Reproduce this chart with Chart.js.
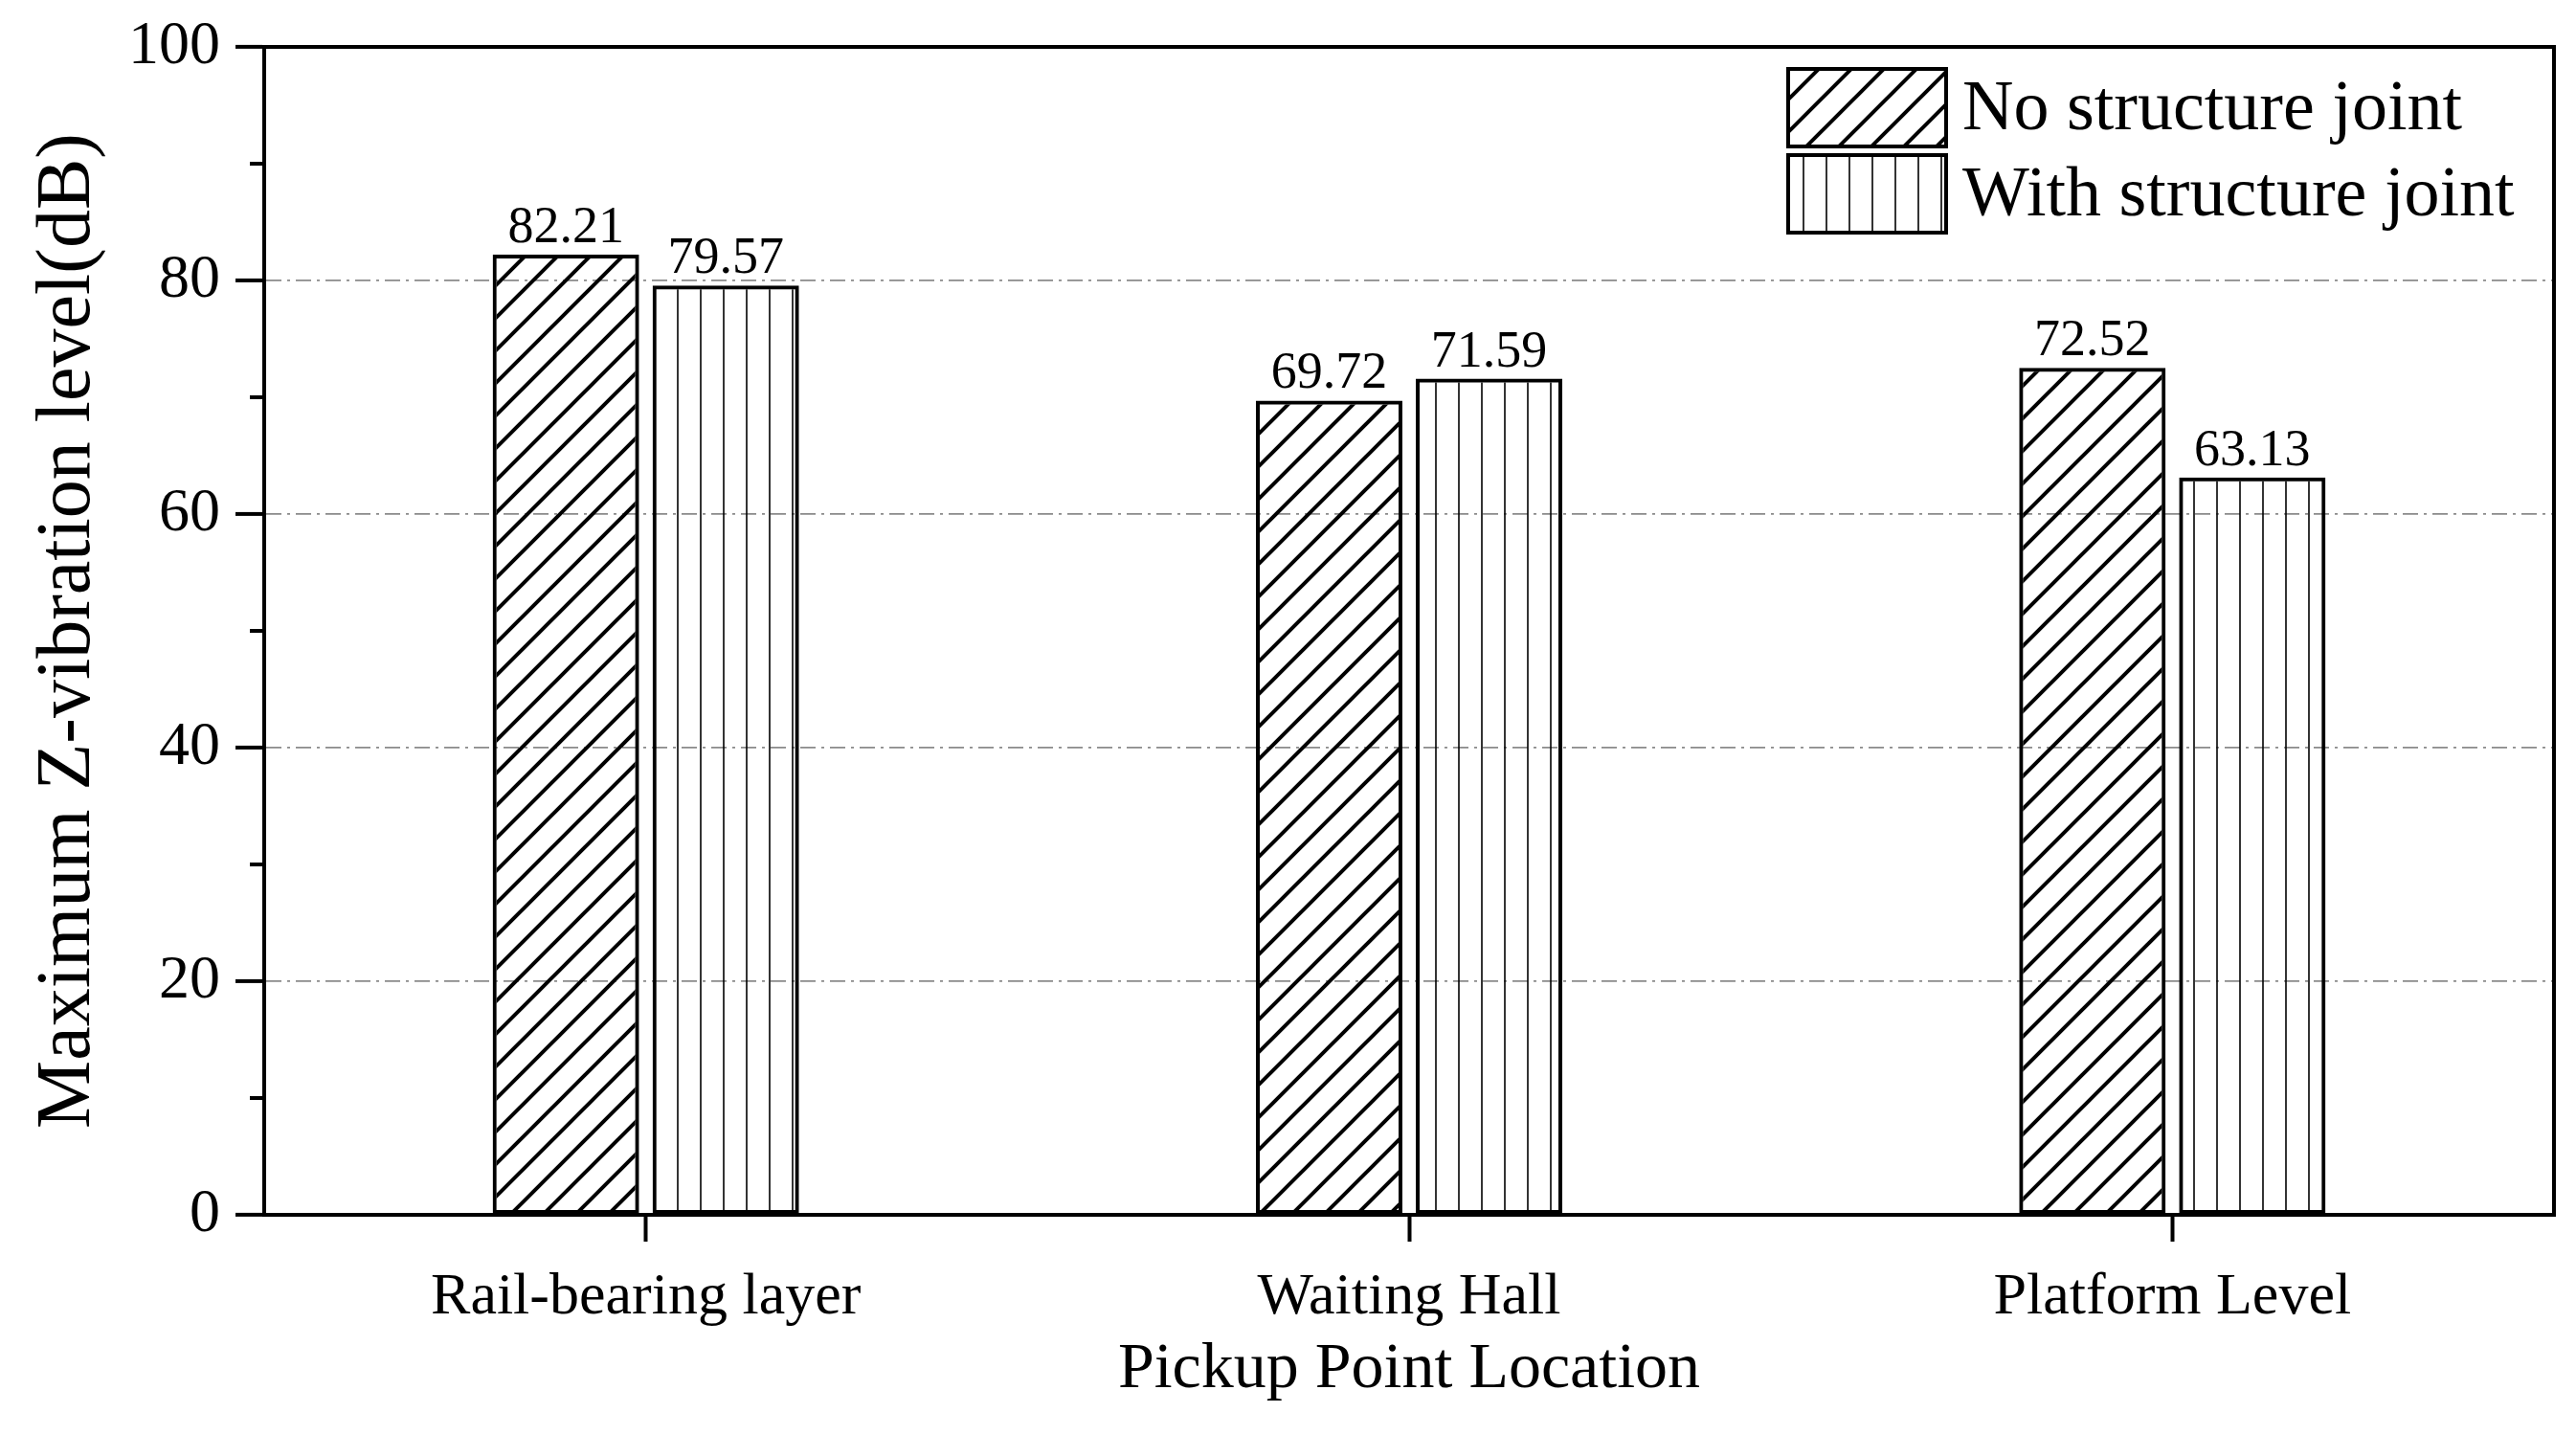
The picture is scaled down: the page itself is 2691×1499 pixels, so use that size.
<!DOCTYPE html>
<html>
<head>
<meta charset="utf-8">
<script src="https://cdn.jsdelivr.net/npm/chart.js@4.4.1/dist/chart.umd.min.js"></script>
<style>
  html, body { margin: 0; padding: 0; background: #fff; }
  #wrap { width: 2691px; height: 1499px; position: relative; }
</style>
</head>
<body>
<div id="wrap"><canvas id="chart"></canvas></div>
<script>
/* ─── DATA ────────────────────────────────────────────────── */
const categories  = ['Rail-bearing layer', 'Waiting Hall', 'Platform Level'];
const noJoint     = [82.21, 69.72, 72.52];
const withJoint   = [79.57, 71.59, 63.13];
const seriesNames = ['No structure joint', 'With structure joint'];
const gridValues  = [20, 40, 60, 80];
const minorTicks  = [10, 30, 50, 70, 90];

const FONT = "'Liberation Serif', 'Times New Roman', serif";

/* ─── PATTERNS ────────────────────────────────────────────── */
function diagPattern() {
  const s = 34, c = document.createElement('canvas');
  c.width = s; c.height = s;
  const g = c.getContext('2d');
  g.strokeStyle = '#000';
  g.lineWidth = 4;
  g.beginPath();
  g.moveTo(-4, s + 4); g.lineTo(s + 4, -4);
  g.moveTo(-4, 4);     g.lineTo(4, -4);
  g.moveTo(s - 4, s + 4); g.lineTo(s + 4, s - 4);
  g.stroke();
  return g.createPattern(c, 'repeat');
}

function vertPattern() {
  const s = 24, c = document.createElement('canvas');
  c.width = s; c.height = s;
  const g = c.getContext('2d');
  g.strokeStyle = '#000';
  g.lineWidth = 1.6;
  g.beginPath();
  g.moveTo(12, 0); g.lineTo(12, s);
  g.stroke();
  return g.createPattern(c, 'repeat');
}

const patA = diagPattern();
const patB = vertPattern();

/* ─── PLUGINS ─────────────────────────────────────────────── */
const framePlugin = {
  id: 'frame',
  afterDraw(chart) {
    const { ctx, chartArea: a, scales } = chart;
    ctx.save();
    ctx.strokeStyle = '#000';
    ctx.lineWidth = 4;
    ctx.beginPath();
    ctx.moveTo(a.left - 2, a.top);
    ctx.lineTo(a.right, a.top);
    ctx.lineTo(a.right, a.bottom + 2);
    ctx.stroke();

    // minor ticks on the y axis
    ctx.beginPath();
    minorTicks.forEach(v => {
      const y = scales.y.getPixelForValue(v);
      ctx.moveTo(a.left - 15, y);
      ctx.lineTo(a.left, y);
    });
    ctx.stroke();
    ctx.restore();
  },
};

const valueLabels = {
  id: 'valueLabels',
  afterDatasetsDraw(chart) {
    const { ctx } = chart;
    ctx.save();
    ctx.fillStyle = '#000';
    ctx.font = `54px ${FONT}`;
    ctx.textAlign = 'center';
    ctx.textBaseline = 'alphabetic';
    chart.data.datasets.forEach((ds, i) => {
      chart.getDatasetMeta(i).data.forEach((bar, j) => {
        ctx.fillText(ds.data[j].toFixed(2), bar.x, bar.y - 13);
      });
    });
    ctx.restore();
  },
};

const boxLegend = {
  id: 'boxLegend',
  afterDraw(chart) {
    const { ctx, chartArea: a } = chart;
    const bx = a.right - 800, bw = 165, bh = 81;
    const tops = [a.top + 23, a.top + 113];
    ctx.save();
    chart.data.datasets.forEach((ds, i) => {
      const y = tops[i];
      ctx.fillStyle = ds.backgroundColor;
      ctx.fillRect(bx, y, bw, bh);
      ctx.strokeStyle = '#000';
      ctx.lineWidth = 4;
      ctx.strokeRect(bx, y, bw, bh);
      ctx.fillStyle = '#000';
      ctx.font = `74px ${FONT}`;
      ctx.textAlign = 'left';
      ctx.textBaseline = 'middle';
      ctx.fillText(ds.label, bx + bw + 17, y + bh / 2 + 3);
    });
    ctx.restore();
  },
};

/* ─── CHART ───────────────────────────────────────────────── */
const ctx = document.getElementById('chart').getContext('2d');

new Chart(ctx, {
  type: 'bar',
  data: {
    labels: categories,
    datasets: [
      { label: seriesNames[0], data: noJoint,   backgroundColor: patA },
      { label: seriesNames[1], data: withJoint, backgroundColor: patB },
    ],
  },
  options: {
    responsive: true,
    maintainAspectRatio: false,
    animation: false,
    layout: { padding: { top: 49, right: 23, left: 0, bottom: 0 } },
    datasets: {
      bar: {
        borderColor: '#000',
        borderWidth: 4,
        borderSkipped: false,
        categoryPercentage: 0.419,
        barPercentage: 0.916,
      },
    },
    plugins: {
      legend: { display: false },
      tooltip: { enabled: false },
    },
    scales: {
      x: {
        afterFit: s => { s.height = 230; },
        grid: {
          offset: false,
          drawOnChartArea: false,
          tickLength: 28,
          tickWidth: 4,
          tickColor: '#000',
        },
        border: { color: '#000', width: 4 },
        ticks: { color: '#000', font: { family: FONT, size: 62 }, padding: 22 },
        title: {
          display: true,
          text: 'Pickup Point Location',
          color: '#000',
          font: { family: FONT, size: 68 },
          padding: { top: 0, bottom: 27 },
        },
      },
      y: {
        min: 0,
        max: 100,
        afterFit: s => { s.width = 276; },
        ticks: { stepSize: 20, color: '#000', font: { family: FONT, size: 64, lineHeight: 1 }, padding: 16 },
        grid: {
          color: c => gridValues.includes(c.tick.value) ? '#8a8a8a' : 'rgba(0,0,0,0)',
          lineWidth: 1.8,
          tickLength: 30,
          tickWidth: 4,
          tickColor: '#000',
          tickBorderDash: [],
        },
        border: { color: '#000', width: 4, dash: [16, 6, 3, 6] },
        title: {
          display: true,
          text: 'Maximum Z-vibration level(dB)',
          color: '#000',
          font: { family: FONT, size: 80 },
          padding: { top: 24, bottom: 0 },
        },
      },
    },
  },
  plugins: [framePlugin, valueLabels, boxLegend],
});
</script>
</body>
</html>
